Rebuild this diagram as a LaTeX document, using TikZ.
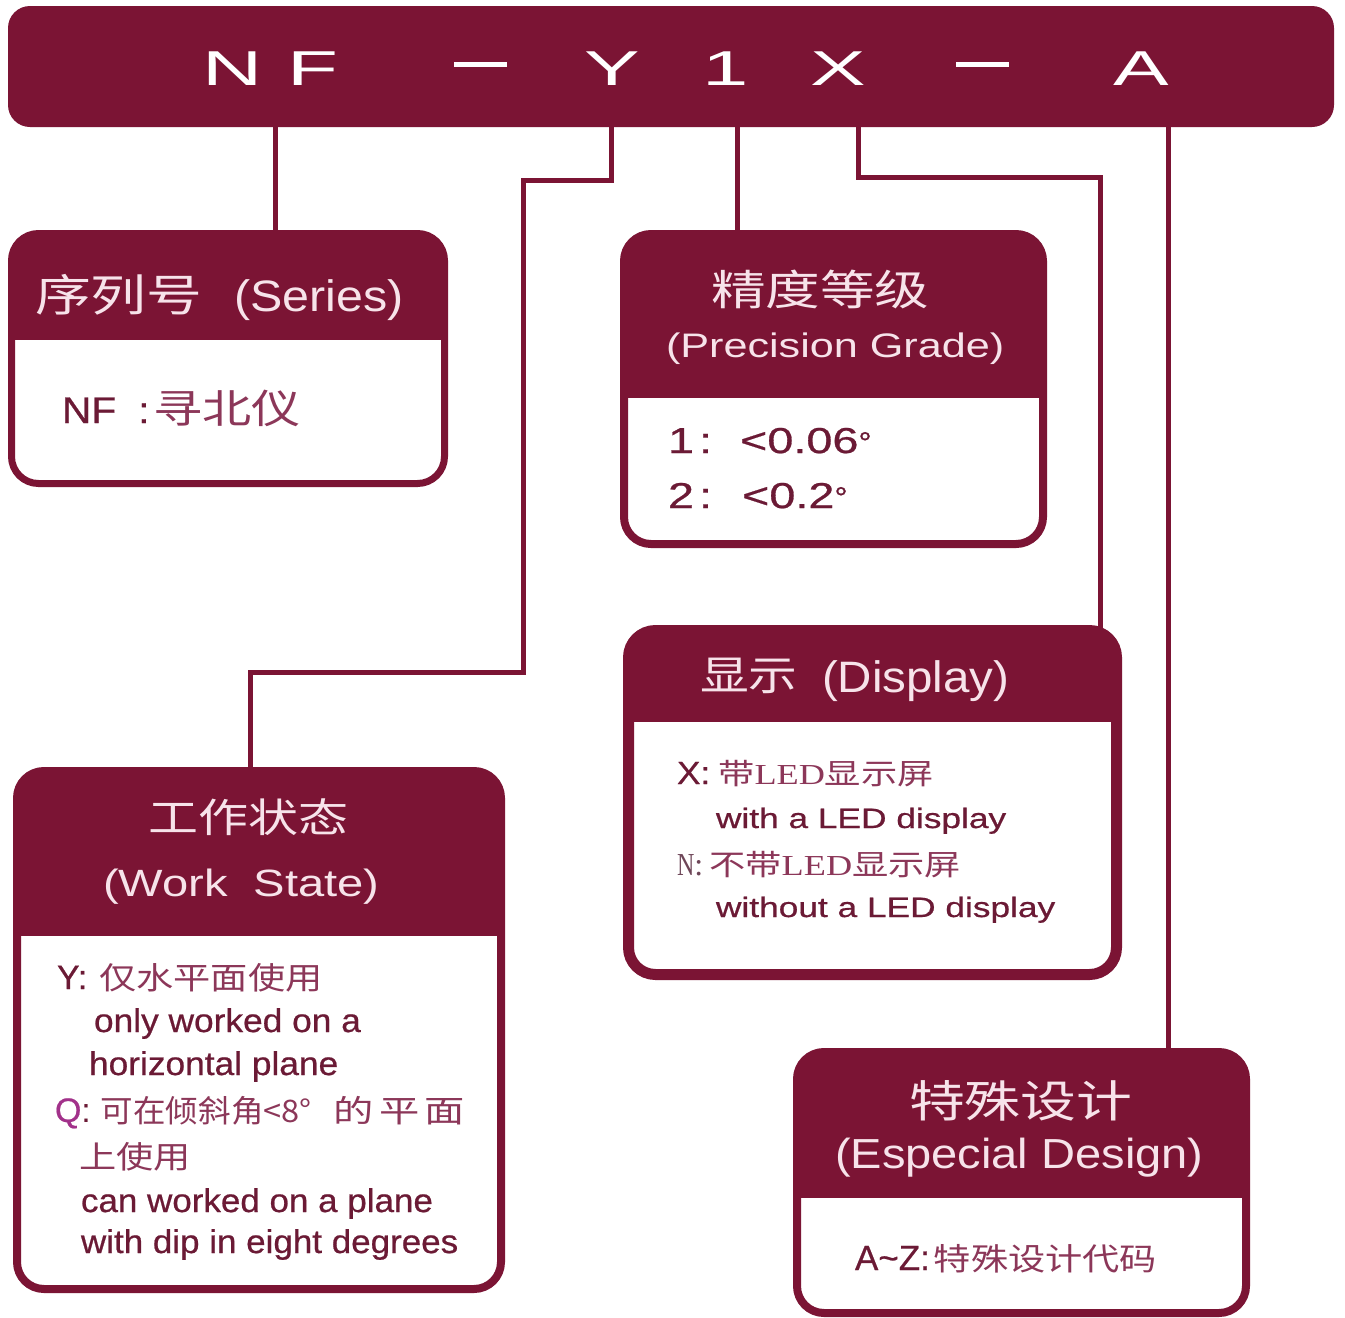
\documentclass[tikz,border=0pt]{standalone}
\usepackage{fontspec}
\usepackage{graphicx}
\setmainfont{Liberation Sans}
\newfontfamily\cjk{Noto Sans CJK SC}
\newfontfamily\serifface{Liberation Serif}
\newfontfamily\bodyfont[FakeBold=0.6]{Liberation Sans}
\definecolor{nfred}{HTML}{7B1434}
\definecolor{hdrtxt}{HTML}{F7E3EA}
\definecolor{bodytxt}{HTML}{6B1A35}
\definecolor{cjktxt}{HTML}{8C3759}
\definecolor{qcol}{HTML}{A2318A}
\definecolor{ncol}{HTML}{6E4658}
\newcommand{\stx}[3]{{\fontsize{#1}{#1}\selectfont\scalebox{#2}[1]{#3}}}
\tikzset{
  conn/.style={draw=nfred, line width=5pt},
  catbox/.style={draw=nfred, fill=white, rounded corners=27pt, inner sep=0pt, outer sep=0pt, anchor=north west,
    path picture={\fill[nfred, sharp corners] ([yshift=8pt]path picture bounding box.north west) rectangle ([yshift=-#1]path picture bounding box.north east);}},
  txt/.style={inner sep=0pt, outer sep=0pt, anchor=base west},
  hd/.style={txt, text=hdrtxt},
  bd/.style={txt, text=bodytxt, font=\bodyfont},
  cn/.style={txt, text=cjktxt},
  letter/.style={inner sep=0pt, outer sep=0pt, anchor=base, text=white},
}
\begin{document}
\begin{tikzpicture}[x=1pt, y=-1pt]
\useasboundingbox (0,0) rectangle (1345,1318);
\fill[white] (0,0) rectangle (1345,1318);

% top bar
\node[fill=nfred, rounded corners=22pt, minimum width=1326pt, minimum height=121pt, anchor=north west, inner sep=0pt, outer sep=0pt] (bar) at (8,6) {};
\node[letter] (lN) at (233,85) {\stx{49}{1.7}{N}};
\node[letter] (lF) at (313,85) {\stx{49}{1.7}{F}};
\node[inner sep=0pt, fill=white, minimum width=53pt, minimum height=5pt] (ld1) at (480,64) {};
\node[letter] (lY) at (612,85) {\stx{49}{1.7}{Y}};
\node[letter] (l1) at (726,85) {\stx{49}{1.7}{1}};
\node[letter] (lX) at (838,85) {\stx{49}{1.7}{X}};
\node[inner sep=0pt, fill=white, minimum width=53pt, minimum height=5pt] (ld2) at (982,64) {};
\node[letter] (lA) at (1141,85) {\stx{49}{1.7}{A}};

% boxes
\node[catbox=106.5pt, line width=7pt, minimum width=433pt, minimum height=250pt] (series) at (11.5,233.5) {};
\node[catbox=164pt, line width=8pt, minimum width=419pt, minimum height=310pt] (prec) at (624,234) {};
\node[catbox=91.5pt, line width=11pt, minimum width=488pt, minimum height=344pt] (disp) at (628.5,630.5) {};
\node[catbox=165pt, line width=8pt, minimum width=484pt, minimum height=518pt] (work) at (17,771) {};
\node[catbox=146pt, line width=8pt, minimum width=449pt, minimum height=261pt] (esp) at (797,1052) {};

% connectors
\coordinate (cNF) at (275,126);
\coordinate (cY) at (611,126);
\coordinate (bY1) at (523,180);
\coordinate (bY2) at (250,672);
\coordinate (c1) at (737,126);
\coordinate (cX) at (858,126);
\coordinate (bX) at (1100,177);
\coordinate (cA) at (1168,126);
\draw[conn] (cNF) -- (cNF |- series.north);
\draw[conn] (cY) |- (bY1) |- (bY2) -- (bY2 |- work.north);
\draw[conn] (c1) -- (c1 |- prec.north);
\draw[conn] (cX) |- (bX) -- (bX |- disp.north);
\draw[conn] (cA) -- (cA |- esp.north);

% series
\node[hd] (sercn) at (35,311) {\stx{44}{1.27}{\cjk 序列号}};
\node[hd] (seren) at (234,311) {\stx{44}{1.1}{(Series)}};
\node[bd] (serbody) at (62,423) {\stx{37}{1.1}{NF}\hspace{22pt}\stx{37}{1.1}{:}\hspace{4pt}\textcolor{cjktxt}{\stx{40}{1.23}{\cjk 寻北仪}}};

% precision
\node[hd] (prcn) at (711,305) {\stx{42}{1.3}{\cjk 精度等级}};
\node[hd] (pren) at (666,357) {\stx{34}{1.27}{(Precision Grade)}};
\node[bd] (pr1) at (668,453) {\stx{36}{1.3}{1}\hspace{5pt}\stx{36}{1.3}{:}\hspace{28pt}\stx{36}{1.3}{<0.06}\stx{30}{1.1}{°}};
\node[bd] (pr2) at (668,508) {\stx{36}{1.3}{2}\hspace{5pt}\stx{36}{1.3}{:}\hspace{30pt}\stx{36}{1.3}{<0.2}\stx{30}{1.1}{°}};

% display
\node[hd] (dicn) at (700,690) {\stx{41}{1.19}{\cjk 显示}};
\node[hd] (dien) at (822,692) {\stx{44}{1.08}{(Display)}};
\node[bd] (di1) at (677,784) {\stx{32}{1.1}{X:}\hspace{8pt}\textcolor{cjktxt}{\stx{29}{1.25}{\cjk 带}\stx{29}{1.25}{\serifface LED}\stx{29}{1.25}{\cjk 显示屏}}};
\node[bd] (di2) at (716,828) {\stx{28}{1.26}{with a LED display}};
\node[txt] (di3) at (677,875) {\textcolor{ncol}{\stx{32}{0.75}{\serifface N}\stx{32}{1}{\serifface :}}\hspace{6pt}\textcolor{cjktxt}{\stx{29}{1.25}{\cjk 不带}\stx{29}{1.25}{\serifface LED}\stx{29}{1.25}{\cjk 显示屏}}};
\node[bd] (di4) at (716,917) {\stx{28}{1.26}{without a LED display}};

% work state
\node[hd] (wocn) at (148,832) {\stx{40}{1.25}{\cjk 工作状态}};
\node[hd] (woen) at (103,896) {\stx{38}{1.24}{(Work\ \ State)}};
\node[bd] (wo1) at (57,989) {\stx{34}{1}{Y:}\hspace{12pt}\textcolor{cjktxt}{\stx{31}{1.2}{\cjk 仅水平面使用}}};
\node[bd] (wo2) at (94,1032) {\stx{33}{1.07}{only worked on a}};
\node[bd] (wo3) at (89,1075) {\stx{33}{1.07}{horizontal plane}};
\node[txt] (wo4) at (55,1122) {\textcolor{qcol}{\stx{34}{1}{\bodyfont Q}}\textcolor{bodytxt}{\stx{34}{1}{:}}\hspace{10pt}\textcolor{cjktxt}{\stx{31}{1.05}{\cjk 可在倾斜角<8°}\hspace{22pt}\stx{31}{1.3}{\cjk 的\hspace{4pt}平\hspace{4pt}面}}};
\node[cn] (wo5) at (79,1168) {\stx{31}{1.2}{\cjk 上使用}};
\node[bd] (wo6) at (81,1212) {\stx{33}{1.06}{can worked on a plane}};
\node[bd] (wo7) at (81,1253) {\stx{33}{1.06}{with dip in eight degrees}};

% especial design
\node[hd] (escn) at (909,1117) {\stx{44}{1.27}{\cjk 特殊设计}};
\node[hd] (esen) at (835,1168) {\stx{42}{1.12}{(Especial Design)}};
\node[bd] (esb) at (855,1270) {\stx{35}{1}{A\textasciitilde Z:}\hspace{4pt}\textcolor{cjktxt}{\stx{31}{1.2}{\cjk 特殊设计代码}}};
\end{tikzpicture}
\end{document}
